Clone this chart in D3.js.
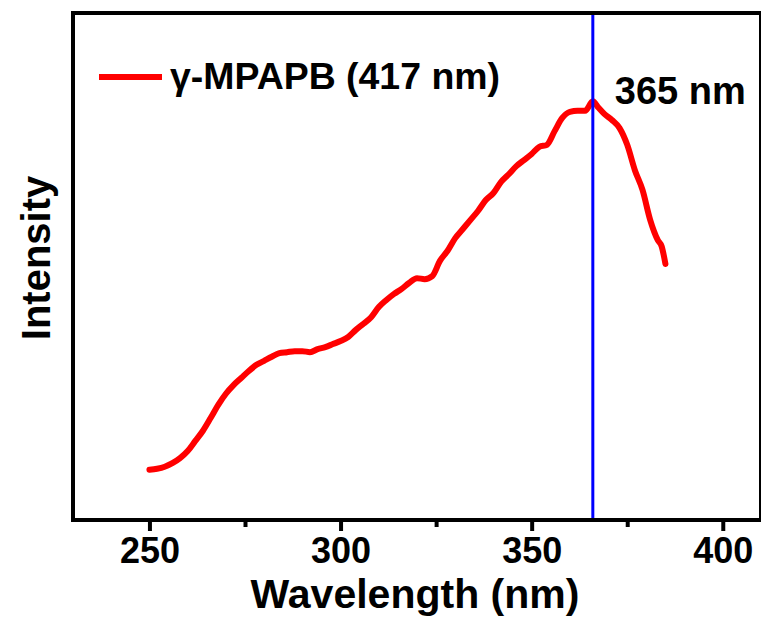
<!DOCTYPE html>
<html>
<head>
<meta charset="utf-8">
<script src="https://cdn.jsdelivr.net/npm/d3@7"></script>
<style>
  body { margin: 0; background: #fff; }
  text { font-family: "Liberation Sans", Arial, sans-serif; font-weight: bold; fill: #000; }
</style>
</head>
<body>
<script>
// excitation spectrum (intensity in arbitrary units)
const wavelength = [250, 252, 254, 256, 258, 260, 262, 264, 266, 268, 270, 272, 274, 276, 278,
  280, 282, 284, 286, 288, 290, 292, 294, 296, 298, 300, 302, 304, 306, 308, 310, 312, 314,
  316, 318, 320, 322, 324, 326, 328, 330, 332, 334, 336, 338, 340, 342, 344, 346, 348, 350,
  352, 354, 356, 358, 360, 362, 364, 366, 367.5, 369, 371, 373, 375, 377, 379, 381, 383, 384, 385];
const intensity = [9.9, 10.1, 10.5, 11.2, 12.2, 13.6, 15.6, 17.6, 20.1, 22.7, 24.9, 26.6, 28.0, 29.4, 30.6,
  31.4, 32.2, 32.9, 33.1, 33.3, 33.3, 33.1, 33.7, 34.1, 34.7, 35.3, 36.1, 37.5, 38.7, 40.0, 42.0, 43.4, 44.6,
  45.6, 46.8, 47.7, 47.5, 48.1, 51.1, 53.1, 55.6, 57.4, 59.2, 61.0, 63.1, 64.5, 66.7, 68.2, 69.8, 71.0, 72.2,
  73.6, 74.0, 76.7, 79.3, 80.5, 80.7, 80.7, 82.6, 81.3, 80.1, 78.9, 77.3, 74.0, 69.0, 65.1, 59.2, 55.2, 54.0, 50.5];
const xTicks = [250, 300, 350, 400];
const xMinorTicks = [275, 325, 375];
const markerWl = 366;
const seriesName = "γ-MPAPB (417 nm)";
const markerLabel = "365 nm";

var width = 761, height = 617;
var margin = {top: 13, right: 761, bottom: 520, left: 73};

const svg = d3.select("body").append("svg")
    .attr("width", width)
    .attr("height", height);

var x = d3.scaleLinear().domain([230, 410]).range([margin.left, margin.right]);
var y = d3.scaleLinear().domain([0, 100]).range([margin.bottom, margin.top]);

var data = wavelength.map(function(d, i) { return {x: d, y: intensity[i]}; });

// x axis, major and minor ticks
var xAxis = svg.append("g")
    .attr("transform", "translate(0," + margin.bottom + ")")
    .call(d3.axisBottom(x).tickValues(xTicks).tickSize(11).tickPadding(6).tickFormat(d3.format("d")));
xAxis.select(".domain").remove();
xAxis.selectAll(".tick line").attr("stroke-width", 4);
xAxis.selectAll(".tick text").style("font-size", "36px");

var xMinor = svg.append("g")
    .attr("transform", "translate(0," + margin.bottom + ")")
    .call(d3.axisBottom(x).tickValues(xMinorTicks).tickSize(7).tickFormat(""));
xMinor.select(".domain").remove();
xMinor.selectAll(".tick line").attr("stroke-width", 4);

// the spectrum
var line = d3.line()
    .x(function(d) { return x(d.x); })
    .y(function(d) { return y(d.y); })
    .curve(d3.curveMonotoneX);

svg.append("path")
    .datum(data)
    .attr("fill", "none")
    .attr("stroke", "#ff0000")
    .attr("stroke-width", 6)
    .attr("stroke-linejoin", "round")
    .attr("stroke-linecap", "round")
    .attr("d", line);

// vertical marker
svg.append("line")
    .attr("x1", x(markerWl)).attr("x2", x(markerWl))
    .attr("y1", margin.top).attr("y2", margin.bottom)
    .attr("stroke", "#0000ff")
    .attr("stroke-width", 3);

svg.append("text")
    .attr("x", x(markerWl) + 22)
    .attr("y", 104)
    .style("font-size", "38px")
    .text(markerLabel);

// frame
svg.append("rect")
    .attr("x", margin.left).attr("y", margin.top)
    .attr("width", margin.right - margin.left).attr("height", margin.bottom - margin.top)
    .attr("fill", "none")
    .attr("stroke", "#000")
    .attr("stroke-width", 4);

// legend
svg.append("line")
    .attr("x1", 99).attr("x2", 162)
    .attr("y1", 77).attr("y2", 77)
    .attr("stroke", "#ff0000")
    .attr("stroke-width", 6);

svg.append("text")
    .attr("x", 170)
    .attr("y", 89)
    .style("font-size", "36px")
    .attr("textLength", 330)
    .attr("lengthAdjust", "spacingAndGlyphs")
    .text(seriesName);

// axis titles
svg.append("text")
    .attr("x", (margin.left + margin.right) / 2 - 2)
    .attr("y", 608)
    .attr("text-anchor", "middle")
    .style("font-size", "41px")
    .text("Wavelength (nm)");

svg.append("text")
    .attr("transform", "translate(50," + 258 + ") rotate(-90)")
    .attr("text-anchor", "middle")
    .style("font-size", "40px")
    .text("Intensity");
</script>
</body>
</html>
